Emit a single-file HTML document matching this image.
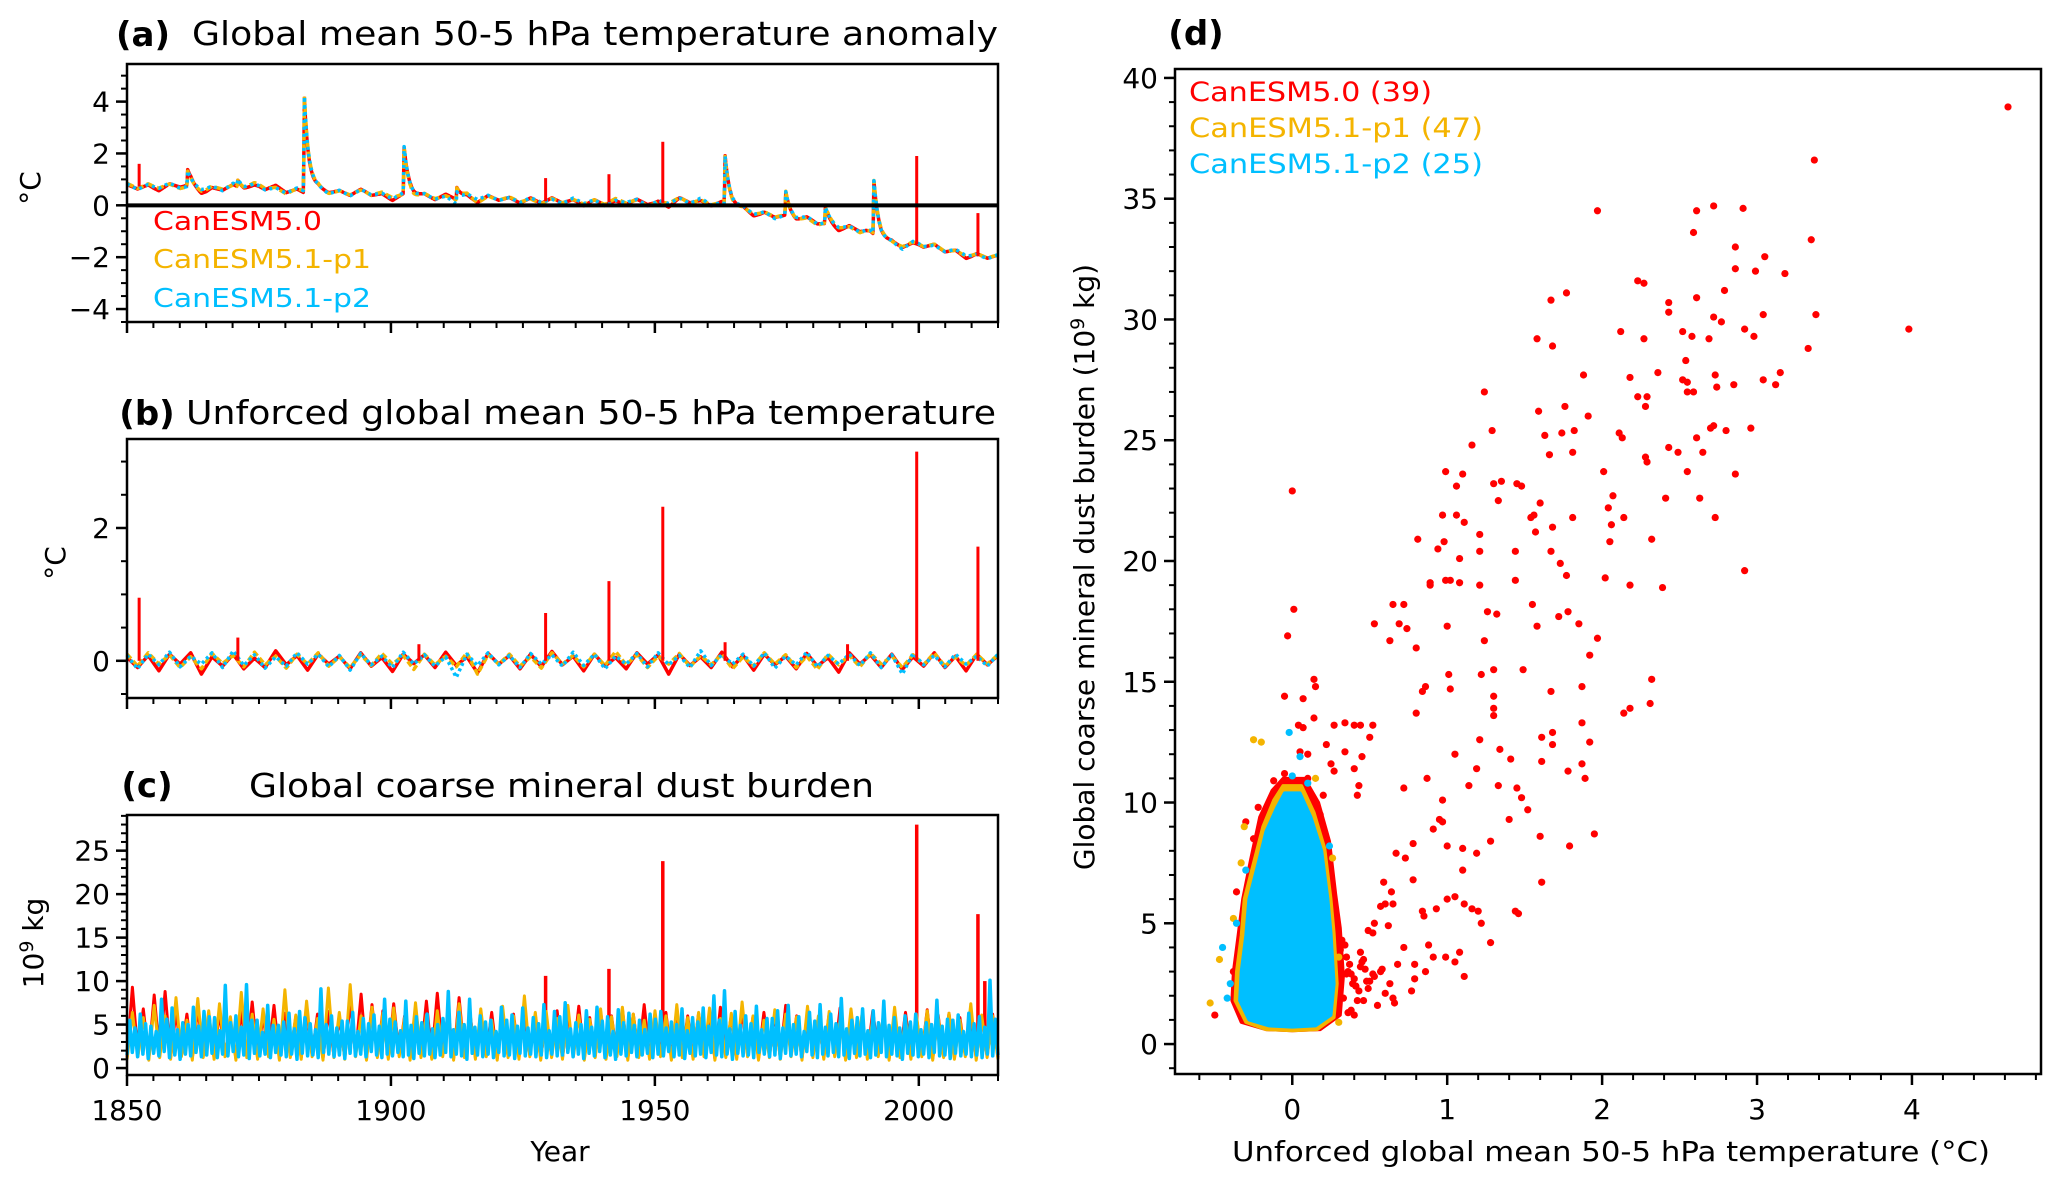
<!DOCTYPE html>
<html><head><meta charset="utf-8">
<style>
html,body{margin:0;padding:0;background:#fff;}
svg{display:block;font-family:"DejaVu Sans","Liberation Sans",sans-serif;}
</style></head>
<body>
<svg id="fig" width="2067" height="1186" viewBox="0 0 2067 1186" xmlns="http://www.w3.org/2000/svg"></svg>
<script>
// ---------------- data ----------------
// Panel (a)
const aTrendYears = [1850,1855,1860,1865,1870,1875,1880,1885,1890,1895,1900,1905,1910,1915,1920,1925,1930,1935,1940,1945,1950,1955,1960,1965,1970,1975,1980,1985,1990,1995,2000,2005,2010,2015];
const aTrendVals  = [0.75,0.7,0.75,0.6,0.7,0.75,0.55,0.55,0.5,0.5,0.35,0.35,0.3,0.3,0.25,0.2,0.15,0.15,0.1,0.15,0.05,0.2,0.1,-0.05,-0.35,-0.45,-0.6,-0.85,-1.0,-1.5,-1.5,-1.7,-1.95,-2.0];
const aVolcYears = [1861.5,1871,1883.6,1902.5,1912.5,1963.3,1974.8,1982.3,1991.5];
const aVolcAmps  = [0.6,0.25,3.65,1.8,0.45,1.85,0.9,0.6,2.05];
const aRedSpikeYears = [1852.3,1929.3,1941.3,1951.5,1999.6,2011.2];
const aRedSpikeVals  = [1.6,1.05,1.2,2.45,1.9,-0.3];
// Panel (b)
const bRed = [0.05,-0.1,0.08,-0.15,0.1,-0.05,0.12,-0.2,0.06,-0.08,0.1,-0.12,0.04,-0.1,0.15,-0.06,0.08,-0.14,0.1,-0.05,0.07,-0.12,0.12,-0.08,0.05,-0.16,0.1,-0.04,0.09,-0.1,0.13,-0.07,0.06,-0.18,0.11,-0.05,0.08,-0.12,0.1,-0.09,0.14,-0.06,0.07,-0.15,0.1,-0.08,0.05,-0.12,0.12,-0.05,0.09,-0.2,0.1,-0.07,0.06,-0.1,0.13,-0.09,0.08,-0.14,0.1,-0.06,0.07,-0.12,0.11,-0.08,0.05,-0.17,0.12,-0.05,0.09,-0.1,0.1,-0.13,0.06,-0.08,0.12,-0.1,0.07,-0.15,0.1,-0.06,0.08];
const bOrange = [0.1,-0.08,0.12,-0.05,0.09,-0.1,0.06,-0.12,0.11,-0.04,0.08,-0.09,0.13,-0.06,0.07,-0.11,0.1,-0.05,0.12,-0.08,0.06,-0.1,0.09,-0.07,0.11,-0.05,0.08,-0.13,0.1,-0.06,0.07,-0.09,0.12,-0.2,0.09,-0.05,0.1,-0.08,0.06,-0.11,0.12,-0.05,0.08,-0.09,0.1,-0.07,0.14,-0.06,0.09,-0.1,0.07,-0.05,0.11,-0.09,0.08,-0.06,0.1,-0.12,0.06,-0.08,0.12,-0.05,0.09,-0.1,0.07,-0.13,0.1,-0.06,0.08,-0.09,0.11,-0.05,0.07,-0.1,0.09,-0.06,0.12,-0.08,0.06,-0.07,0.1,-0.05,0.09];
const bCyan = [0.08,-0.12,0.1,-0.06,0.13,-0.09,0.07,-0.05,0.12,-0.1,0.15,-0.07,0.09,-0.11,0.06,-0.08,0.12,-0.05,0.1,-0.09,0.08,-0.14,0.11,-0.06,0.07,-0.1,0.13,-0.05,0.09,-0.08,0.06,-0.25,0.1,-0.07,0.12,-0.06,0.08,-0.1,0.11,-0.05,0.09,-0.08,0.13,-0.07,0.1,-0.12,0.07,-0.05,0.11,-0.09,0.12,-0.06,0.08,-0.1,0.15,-0.07,0.09,-0.05,0.1,-0.08,0.12,-0.11,0.07,-0.06,0.13,-0.09,0.08,-0.05,0.1,-0.07,0.12,-0.1,0.09,-0.2,0.11,-0.06,0.08,-0.09,0.1,-0.05,0.07,-0.08,0.1];
const bRedSpikeYears = [1852.3,1871,1905.3,1929.3,1941.3,1951.5,1963.3,1986.5,1999.6,2011.2];
const bRedSpikeVals  = [0.95,0.35,0.25,0.72,1.2,2.32,0.28,0.25,3.15,1.72];
// Panel (c)
const cCyanPeaks = [5.5,6.2,4.8,7.9,6.9,5.2,7.0,6.5,5.8,9.5,6.0,9.6,5.5,7.2,4.9,6.3,6.5,5.1,9.1,6.0,5.4,6.4,5.7,6.1,7.9,5.3,7.7,5.9,6.2,5.0,8.8,6.4,7.9,6.0,5.5,7.0,6.1,6.9,5.8,7.3,6.5,7.5,5.2,6.6,7.0,5.9,6.7,6.3,5.5,6.2,6.5,5.3,6.8,5.8,6.9,8.3,8.9,6.5,6.0,7.1,5.7,6.6,7.2,5.9,6.4,7.3,6.2,8.0,5.5,6.8,6.6,7.7,5.8,6.0,6.2,5.2,7.8,5.6,6.1,6.3,5.9,10.1];
const cCyanPeaks2 = [4.6,5.1,4.2,5.6,4.4,5.0,4.8,5.9,4.3,5.2,4.7,5.5,4.1,4.9,5.3,4.5,5.8,4.4,5.0,4.6,5.4,4.2,5.1,4.8,5.6,4.3,4.9,5.2,4.5,5.7,4.4,5.0,4.7,5.3,4.2,5.5,4.8,4.6,5.1,4.3,5.9,4.5,5.0,4.7,5.4,4.2,5.2,4.9,4.4,5.6,4.6,5.0,4.3,5.3,4.8,5.5,4.5,4.9,5.1,4.4,5.7,4.6,5.0,4.2,5.4,4.7,5.1,4.5,5.8,4.3,5.2,4.9,4.6,5.3,4.4,5.0,4.8,5.5,4.2,5.1,4.7,5.6];
const cCyanLows  = [1.5,1.8,1.3,1.6,1.1,1.7,1.4,1.9,1.2,1.5,1.0,1.6,1.4,1.8,1.3,1.5,1.7,1.2,1.6,1.4,1.9,1.3,1.5,1.1,1.7,1.4,1.6,1.2,1.8,1.5,1.3,1.6,1.0,1.7,1.4,1.5,1.2,1.8,1.6,1.3,1.5,1.1,1.7,1.4,1.6,1.3,1.9,1.5,1.2,1.6,1.4,1.8,1.3,1.5,1.1,1.7,1.4,1.6,1.2,1.5,1.8,1.3,1.6,1.4,1.0,1.7,1.5,1.3,1.6,1.2,1.8,1.4,1.5,1.1,1.7,1.4,1.6,1.3,1.5,1.2,1.6,1.4];
const cOrangePeaks = [6.4,5.8,7.2,6.0,8.1,5.5,8.0,6.6,7.4,5.9,8.7,6.2,6.8,5.6,9.0,6.1,7.7,5.7,9.2,6.4,9.6,6.0,7.0,6.3,6.9,5.8,7.5,6.1,6.6,5.9,7.4,6.2,6.8,5.5,7.1,6.0,8.3,6.4,6.5,5.7,7.2,6.1,5.6,6.8,5.9,7.0,6.2,5.5,6.6,6.0,7.3,5.8,6.4,6.9,5.7,6.3,7.6,6.0,5.5,6.7,6.2,5.9,7.1,6.0,6.5,5.6,6.8,6.1,5.8,6.4,7.0,5.7,6.2,6.6,5.9,6.3,5.5,7.4,6.1,6.0];
const cRedPeaks = [9.3,6.8,8.4,8.8,6.5,6.2,7.0,5.8,6.4,5.5,6.6,7.6,6.0,7.2,6.3,5.9,6.8,6.2,6.5,5.7,7.6,8.5,7.3,6.6,7.4,6.0,6.9,7.7,8.6,6.5,8.1,6.3,6.0,6.4,5.8,6.2,7.0,6.1,5.9,6.6,6.3,7.1,5.8,6.5,6.0,6.8,6.2,7.3,5.9,6.4,6.7,6.0,6.3,5.8,7.0,6.1,6.6,5.9,6.4,6.2,7.2,6.0,6.5,5.7,6.3,6.9,6.1,5.8,6.6,6.2,6.0,6.4,5.9,6.7,6.1,6.3,5.8,6.5,6.0,6.2];
const cRedSpikeYears = [1929.3,1941.3,1951.5,1999.6,2011.2,2012.5];
const cRedSpikeVals  = [10.6,11.4,23.8,28.0,17.7,10.0];
// Panel (d): [x, y] pairs
const dRedPts = [[4.62,38.8],[3.37,36.6],[3.98,29.6],[1.97,34.5],[2.72,34.7],[2.91,34.6],[2.61,34.5],[2.59,33.6],[3.35,33.3],[2.86,33.0],[3.05,32.6],[3.18,31.9],[2.86,32.1],[2.99,32.0],[2.23,31.6],[2.27,31.5],[2.79,31.2],[2.61,30.9],[1.77,31.1],[1.67,30.8],[2.43,30.7],[2.43,30.3],[3.04,30.2],[3.38,30.2],[2.72,30.1],[2.77,29.9],[2.12,29.5],[2.52,29.5],[2.58,29.3],[2.92,29.6],[2.98,29.3],[2.27,29.2],[1.58,29.2],[1.68,28.9],[2.69,29.2],[3.33,28.8],[2.54,28.3],[2.36,27.8],[3.15,27.8],[2.73,27.7],[1.88,27.7],[2.18,27.6],[2.52,27.5],[2.55,27.4],[3.04,27.5],[3.12,27.3],[2.85,27.3],[2.74,27.2],[2.55,27.0],[2.59,27.0],[1.24,27.0],[2.23,26.8],[2.29,26.8],[2.28,26.4],[1.76,26.4],[1.59,26.2],[1.91,26.0],[1.29,25.4],[1.63,25.2],[2.11,25.3],[2.13,25.1],[2.70,25.5],[2.72,25.6],[2.96,25.5],[2.80,25.4],[1.74,25.3],[1.82,25.4],[2.61,25.1],[1.16,24.8],[2.43,24.7],[2.49,24.5],[1.81,24.5],[1.66,24.4],[2.65,24.5],[2.28,24.3],[2.29,24.1],[2.01,23.7],[0.99,23.7],[2.86,23.6],[2.55,23.7],[1.10,23.6],[1.30,23.2],[1.35,23.3],[1.45,23.2],[1.48,23.1],[1.06,23.1],[0.00,22.9],[1.33,22.5],[2.07,22.7],[2.41,22.6],[2.63,22.6],[1.60,22.4],[2.04,22.2],[2.14,21.8],[1.56,21.9],[1.54,21.8],[2.73,21.8],[1.81,21.8],[0.97,21.9],[1.06,21.9],[1.11,21.6],[1.21,21.1],[1.57,21.2],[1.68,21.4],[2.06,21.5],[0.81,20.9],[0.98,20.8],[2.05,20.8],[2.32,20.9],[1.44,20.4],[1.67,20.4],[0.94,20.5],[1.08,20.1],[1.21,20.4],[1.73,19.9],[2.92,19.6],[1.77,19.4],[2.02,19.3],[1.44,19.2],[0.89,19.1],[0.99,19.2],[1.08,19.1],[1.02,19.2],[0.89,19.0],[1.21,19.0],[2.18,19.0],[2.39,18.9],[1.55,18.2],[0.65,18.2],[0.72,18.2],[0.01,18.0],[1.78,17.9],[1.26,17.9],[1.32,17.8],[0.69,17.4],[0.53,17.4],[1.72,17.7],[1.85,17.4],[1.00,17.3],[1.58,17.3],[0.74,17.2],[0.63,16.7],[1.24,16.7],[1.97,16.8],[-0.03,16.9],[0.80,16.4],[1.92,16.1],[1.01,15.3],[1.30,15.5],[1.49,15.5],[1.22,15.3],[0.86,14.8],[0.84,14.6],[1.02,14.7],[1.67,14.6],[1.87,14.8],[2.32,15.1],[0.14,15.1],[0.15,14.8],[-0.05,14.4],[0.07,14.3],[1.30,14.4],[1.30,13.9],[1.30,13.6],[0.80,13.7],[2.31,14.1],[2.18,13.9],[2.14,13.7],[0.14,13.5],[0.40,13.2],[0.44,13.2],[0.34,13.3],[0.27,13.2],[0.52,13.2],[1.87,13.3],[0.04,13.2],[0.07,13.1],[0.50,12.7],[1.21,12.6],[1.61,12.7],[1.68,12.9],[1.68,12.4],[1.92,12.5],[0.22,12.4],[1.05,12.0],[0.10,12.0],[1.41,11.8],[0.45,11.9],[0.34,12.1],[1.34,12.2],[1.61,11.7],[1.78,11.3],[1.87,11.6],[1.19,11.4],[0.27,11.3],[0.40,11.4],[0.87,11.0],[1.89,11.0],[1.14,10.7],[1.33,10.7],[1.45,10.6],[1.48,10.2],[0.43,10.7],[0.42,10.3],[0.97,10.1],[0.72,10.6],[0.95,9.3],[0.97,9.2],[1.40,9.3],[0.91,8.9],[1.52,9.7],[1.60,8.6],[1.79,8.2],[1.95,8.7],[1.28,8.4],[0.78,8.3],[1.00,8.2],[1.10,8.1],[1.19,7.9],[0.67,7.9],[1.10,7.2],[0.73,7.7],[0.59,6.7],[0.78,6.8],[1.61,6.7],[0.64,6.3],[0.60,5.8],[0.57,5.7],[1.00,6.0],[1.05,6.1],[1.11,5.8],[1.16,5.6],[1.20,5.5],[1.22,5.0],[1.44,5.5],[1.46,5.4],[0.84,5.5],[0.93,5.6],[0.85,5.3],[0.65,5.8],[0.49,4.7],[0.53,5.0],[0.62,4.9],[1.28,4.2],[1.08,3.8],[0.88,4.1],[0.72,4.0],[0.91,3.6],[0.99,3.6],[1.05,3.4],[0.79,3.3],[0.86,3.0],[1.11,2.8],[0.79,2.7],[0.77,2.2],[0.65,1.9],[0.66,1.7],[0.58,3.1],[0.32,4.3],[0.35,3.6],[0.38,2.9],[0.41,2.4],[0.44,3.8],[0.47,3.1],[0.50,2.6],[0.30,2.0],[0.34,4.1],[0.37,3.3],[0.40,2.7],[0.43,2.2],[0.46,3.5],[0.52,2.9],[0.55,1.6],[0.31,3.9],[0.36,3.0],[0.39,2.5],[0.42,1.8],[0.45,3.4],[0.48,2.6],[0.33,1.9],[0.38,1.4],[0.44,3.2],[0.49,2.3],[0.53,2.8],[0.57,3.0],[0.60,2.1],[0.63,2.5],[0.68,3.3],[0.29,2.0],[0.35,2.9],[0.41,2.4],[0.46,1.8],[0.52,4.6],[0.40,1.2],[0.36,1.3],[-0.50,1.2],[-0.30,9.2],[-0.25,8.5],[-0.22,9.8],[-0.12,10.9],[0.10,11.0],[0.20,10.3],[0.25,11.6],[-0.36,6.3],[-0.38,3.0],[0.18,9.5],[-0.05,11.2],[0.05,12.1]];
const dClusterCyanX = [-0.05,0.05,0.12,0.19,0.23,0.25,0.27,0.25,0.15,0.0,-0.15,-0.28,-0.34,-0.33,-0.30,-0.28,-0.22,-0.17,-0.10];
const dClusterCyanY = [10.4,10.4,9.4,8.0,6.0,4.6,2.5,1.2,0.75,0.7,0.75,1.0,1.8,3.0,4.5,6.0,7.5,8.8,9.8];
const dClusterOrangeX = [-0.06,0.06,0.14,0.21,0.25,0.27,0.29,0.27,0.16,0.0,-0.17,-0.30,-0.37,-0.36,-0.33,-0.31,-0.25,-0.19,-0.12];
const dClusterOrangeY = [10.7,10.7,9.6,8.1,6.0,4.6,2.5,1.1,0.6,0.55,0.6,0.9,1.8,3.0,4.5,6.0,7.5,9.0,10.1];
const dClusterRedX = [-0.06,0.08,0.17,0.24,0.28,0.31,0.33,0.31,0.18,0.0,-0.17,-0.33,-0.39,-0.38,-0.35,-0.32,-0.27,-0.21,-0.13];
const dClusterRedY = [11.0,11.0,10.0,8.4,6.2,4.8,2.8,1.2,0.6,0.55,0.6,0.9,1.8,3.0,4.5,6.0,7.6,9.4,10.5];
const dOrangePts = [[-0.25,12.6],[-0.53,1.7],[-0.47,3.5],[-0.38,5.2],[-0.20,12.5],[0.30,0.9],[0.30,3.6],[-0.33,7.5],[0.15,11.0],[-0.31,9.0],[0.26,7.7]];
const dCyanPts = [[-0.45,4.0],[-0.40,2.5],[-0.02,12.9],[0.05,11.9],[-0.42,1.9],[-0.36,5.0],[0.00,11.1],[0.10,10.8],[-0.30,7.2],[0.24,8.2]];

// ---------------- helpers ----------------
const NS = "http://www.w3.org/2000/svg";
const svg = document.getElementById('fig');
const RED = "#ff0000", ORG = "#f4b400", CYA = "#00bfff";
function el(tag, attrs, parent){
  const e = document.createElementNS(NS, tag);
  for (const k in attrs) e.setAttribute(k, attrs[k]);
  (parent||svg).appendChild(e);
  return e;
}
function txt(s, x, y, size, anchor, fill, parent, extra){
  const t = el('text', Object.assign({x:x, y:y, 'font-size':size, 'text-anchor':anchor||'start', fill:fill||'#000'}, extra||{}), parent);
  t.textContent = s;
  return t;
}
function axes(L, T, R, B, x0, x1, y0, y1){
  return {
    sx: v => L + (v - x0) / (x1 - x0) * (R - L),
    sy: v => B - (v - y0) / (y1 - y0) * (B - T),
    L, T, R, B
  };
}
function frame(ax, name){
  const r = el('rect', {x:ax.L, y:ax.T, width:ax.R-ax.L, height:ax.B-ax.T, fill:'none', stroke:'#000', 'stroke-width':2.5});
  
  
}
function yTicks(ax, vals, labels, minor, g){
  minor.forEach(v => el('line', {x1:ax.L, x2:ax.L-6, y1:ax.sy(v), y2:ax.sy(v), stroke:'#000', 'stroke-width':2}, g));
  vals.forEach((v,i) => {
    el('line', {x1:ax.L, x2:ax.L-11, y1:ax.sy(v), y2:ax.sy(v), stroke:'#000', 'stroke-width':2.5}, g);
    const t = txt(labels[i], ax.L-17, ax.sy(v)+10, 28, 'end', '#000', g);
    
    
  });
}
function xTicks(ax, vals, labels, minor, g){
  minor.forEach(v => el('line', {y1:ax.B, y2:ax.B+6, x1:ax.sx(v), x2:ax.sx(v), stroke:'#000', 'stroke-width':2}, g));
  vals.forEach((v,i) => {
    el('line', {y1:ax.B, y2:ax.B+11, x1:ax.sx(v), x2:ax.sx(v), stroke:'#000', 'stroke-width':2.5}, g);
    if (labels) {
      const t = txt(labels[i], ax.sx(v), ax.B+45, 28, 'middle', '#000', g);
      
      
    }
  });
}
function range(a, b, s){ const r=[]; for(let v=a; v<=b+1e-9; v+=s) r.push(+v.toFixed(4)); return r; }
function poly(pts, stroke, w, dash, parent){
  const d = pts.map((p,i)=>(i?'L':'M')+p[0].toFixed(1)+' '+p[1].toFixed(1)).join('');
  const a = {d:d, fill:'none', stroke:stroke, 'stroke-width':w, 'stroke-linejoin':'round'};
  if (dash) a['stroke-dasharray'] = dash;
  return el('path', a, parent);
}
function interp(xs, ys, x){
  if (x <= xs[0]) return ys[0];
  for (let i=1;i<xs.length;i++) if (x <= xs[i]) { const f=(x-xs[i-1])/(xs[i]-xs[i-1]); return ys[i-1]+f*(ys[i]-ys[i-1]); }
  return ys[ys.length-1];
}
function sampleArr(arr, t){
  const n = arr.length, f = (t-1850)/165*(n-1);
  const i = Math.max(0, Math.min(n-2, Math.floor(f))), r = f-i;
  return arr[i]*(1-r)+arr[i+1]*r;
}
const yearTicks = [1850,1900,1950,2000];
const yearMinor = range(1850, 2015, 5);
const LEFT_R = 998;

// ================= Panel (a) =================
const gA = el('g', {});  
const axA = axes(127, 64, LEFT_R, 322, 1850, 2015, -4.5, 5.45);
function aBase(t){
  let v = interp(aTrendYears, aTrendVals, t);
  aVolcYears.forEach((vy,i)=>{ if (t>=vy) v += aVolcAmps[i]*Math.exp(-(t-vy)/0.9); else if (vy-t<0.15) v += aVolcAmps[i]*(1-(vy-t)/0.15); });
  return v;
}
const aSeries = [[RED,null,bRed],[ORG,'7 4',bOrange],[CYA,'3 4',bCyan]];
aSeries.forEach((s,k)=>{
  const pts=[];
  for (let t=1850; t<=2015; t+=0.1) pts.push([axA.sx(t), axA.sy(aBase(t)+sampleArr(s[2], t))]);
  const p = poly(pts, s[0], 3.5, s[1], gA);
  
  
});
aRedSpikeYears.forEach((y,i)=>{
  const b = aBase(y);
  const l = el('line', {x1:axA.sx(y), x2:axA.sx(y), y1:axA.sy(b), y2:axA.sy(aRedSpikeVals[i]), stroke:RED, 'stroke-width':3}, gA);
  
  
});
const zl = el('line', {x1:axA.L, x2:axA.R, y1:axA.sy(0), y2:axA.sy(0), stroke:'#000', 'stroke-width':4}, gA);
 
frame(axA, 'frame-a');
yTicks(axA, [-4,-2,0,2,4], ['\u22124','\u22122','0','2','4'], range(-4.5,5,0.5), gA);
xTicks(axA, yearTicks, null, yearMinor, gA);
let t;
t = txt('(a)', 143, 46, 34, 'middle', '#000', gA, {'font-weight':'bold'});  
t = txt('Global mean 50-5 hPa temperature anomaly', 192, 45, 33, 'start', '#000', gA, {textLength:806, lengthAdjust:'spacingAndGlyphs'});  
t = txt('\u00b0C', 30, 188, 28, 'middle', '#000', gA, {transform:'rotate(-90 30 188)', dy:10});  
t = txt('CanESM5.0', 153, 230, 26, 'start', RED, gA, {textLength:169, lengthAdjust:'spacingAndGlyphs'});  
t = txt('CanESM5.1-p1', 153, 268, 26, 'start', ORG, gA, {textLength:218, lengthAdjust:'spacingAndGlyphs'});  
t = txt('CanESM5.1-p2', 153, 307, 26, 'start', CYA, gA, {textLength:218, lengthAdjust:'spacingAndGlyphs'});  

// ================= Panel (b) =================
const gB = el('g', {});  
const axB = axes(127, 439, LEFT_R, 698, 1850, 2015, -0.56, 3.34);
[[bRed,RED,null],[bOrange,ORG,'6 3'],[bCyan,CYA,'3 3']].forEach((s,k)=>{
  const arr = s[0], n = arr.length, step = 165/(n-1);
  const pts = arr.map((v,i)=>[axB.sx(1850+i*step), axB.sy(v)]);
  const p = poly(pts, s[1], 3.5, s[2], gB);
  
  
});
bRedSpikeYears.forEach((y,i)=>{
  const l = el('line', {x1:axB.sx(y), x2:axB.sx(y), y1:axB.sy(0), y2:axB.sy(bRedSpikeVals[i]), stroke:RED, 'stroke-width':3}, gB);
  
  
});
frame(axB, 'frame-b');
yTicks(axB, [0,2], ['0','2'], range(-0.5,3,0.5), gB);
xTicks(axB, yearTicks, null, yearMinor, gB);
t = txt('(b)', 147, 425, 34, 'middle', '#000', gB, {'font-weight':'bold'});  
t = txt('Unforced global mean 50-5 hPa temperature', 186, 424, 33, 'start', '#000', gB, {textLength:810, lengthAdjust:'spacingAndGlyphs'});  
t = txt('\u00b0C', 55, 563, 28, 'middle', '#000', gB, {transform:'rotate(-90 55 563)', dy:10});  

// ================= Panel (c) =================
const gC = el('g', {});  
const axC = axes(127, 815, LEFT_R, 1075, 1850, 2015, -0.8, 29.1);
function zig(peakSets, lows, color, w, name){
  const n = peakSets[0].length * peakSets.length, step = 165/n;
  const pts=[];
  for (let i=0;i<n;i++){
    const v = peakSets[i % peakSets.length][Math.floor(i/peakSets.length)];
    const lo = lows[i % lows.length];
    pts.push([axC.sx(1850+i*step), axC.sy(lo)]);
    pts.push([axC.sx(1850+(i+0.5)*step), axC.sy(v)]);
  }
  pts.push([axC.sx(2015), axC.sy(lows[0])]);
  const p = poly(pts, color, w, null, gC);
  
  
}
zig([cRedPeaks], [1.2,1.5,1.1,1.4], RED, 3, 'line-c-canesm5-0');
cRedSpikeYears.forEach((y,i)=>{
  const l = el('line', {x1:axC.sx(y), x2:axC.sx(y), y1:axC.sy(3), y2:axC.sy(cRedSpikeVals[i]), stroke:RED, 'stroke-width':3.5}, gC);
  
  
});
zig([cOrangePeaks], [1.0,1.3,0.9,1.2], ORG, 3, 'line-c-canesm5-1-p1');
zig([cCyanPeaks, cCyanPeaks2], cCyanLows, CYA, 3.5, 'line-c-canesm5-1-p2');
frame(axC, 'frame-c');
yTicks(axC, [0,5,10,15,20,25], ['0','5','10','15','20','25'], range(0,29,1), gC);
xTicks(axC, yearTicks, ['1850','1900','1950','2000'], yearMinor, gC);
t = txt('(c)', 147, 797, 34, 'middle', '#000', gC, {'font-weight':'bold'});  
t = txt('Global coarse mineral dust burden', 249, 797, 33, 'start', '#000', gC, {textLength:625, lengthAdjust:'spacingAndGlyphs'});  
t = txt('Year', 560, 1161, 28, 'middle', '#000', gC);  
t = el('text', {x:33, y:943, 'font-size':28, 'text-anchor':'middle', transform:'rotate(-90 33 943)', dy:10}, gC);
t.innerHTML = '10<tspan dy="-10" font-size="19">9</tspan><tspan dy="10"> kg</tspan>';
 

// ================= Panel (d) =================
const gD = el('g', {});  
const axD = axes(1175, 69, 2041, 1074, -0.757, 4.833, -1.24, 40.37);
function blob(xs, ys, color, name){
  const d = xs.map((x,i)=>(i?'L':'M')+axD.sx(x).toFixed(1)+' '+axD.sy(ys[i]).toFixed(1)).join('')+'Z';
  const p = el('path', {d:d, fill:color, stroke:color, 'stroke-width':3, 'stroke-linejoin':'round'}, gD);
  
  
}
function dots(pts, color, name){
  pts.forEach(p=>{
    const c = el('circle', {cx:axD.sx(p[0]), cy:axD.sy(p[1]), r:3.6, fill:color}, gD);
    
    
  });
}
blob(dClusterRedX, dClusterRedY, RED, 'cluster-canesm5-0');
dots(dRedPts, RED, 'point-canesm5-0');
blob(dClusterOrangeX, dClusterOrangeY, ORG, 'cluster-canesm5-1-p1');
dots(dOrangePts, ORG, 'point-canesm5-1-p1');
blob(dClusterCyanX, dClusterCyanY, CYA, 'cluster-canesm5-1-p2');
dots(dCyanPts, CYA, 'point-canesm5-1-p2');
frame(axD, 'frame-d');
yTicks(axD, [0,5,10,15,20,25,30,35,40], ['0','5','10','15','20','25','30','35','40'], range(-1,40,1), gD);
xTicks(axD, [0,1,2,3,4], ['0','1','2','3','4'], range(-0.6,4.8,0.2), gD);
t = txt('(d)', 1196, 45, 34, 'middle', '#000', gD, {'font-weight':'bold'});  
t = txt('Unforced global mean 50-5 hPa temperature (\u00b0C)', 1611, 1161, 28, 'middle', '#000', gD, {textLength:758, lengthAdjust:'spacingAndGlyphs'});  
t = el('text', {x:1084, y:567, 'font-size':28, 'text-anchor':'middle', transform:'rotate(-90 1084 567)', dy:10}, gD);
t.innerHTML = 'Global coarse mineral dust burden (10<tspan dy="-10" font-size="19">9</tspan><tspan dy="10"> kg)</tspan>';
 
t = txt('CanESM5.0 (39)', 1189, 101, 27, 'start', RED, gD, {textLength:243, lengthAdjust:'spacingAndGlyphs'});  
t = txt('CanESM5.1-p1 (47)', 1189, 137, 27, 'start', ORG, gD, {textLength:294, lengthAdjust:'spacingAndGlyphs'});  
t = txt('CanESM5.1-p2 (25)', 1189, 173, 27, 'start', CYA, gD, {textLength:294, lengthAdjust:'spacingAndGlyphs'});  
</script>
</body></html>
